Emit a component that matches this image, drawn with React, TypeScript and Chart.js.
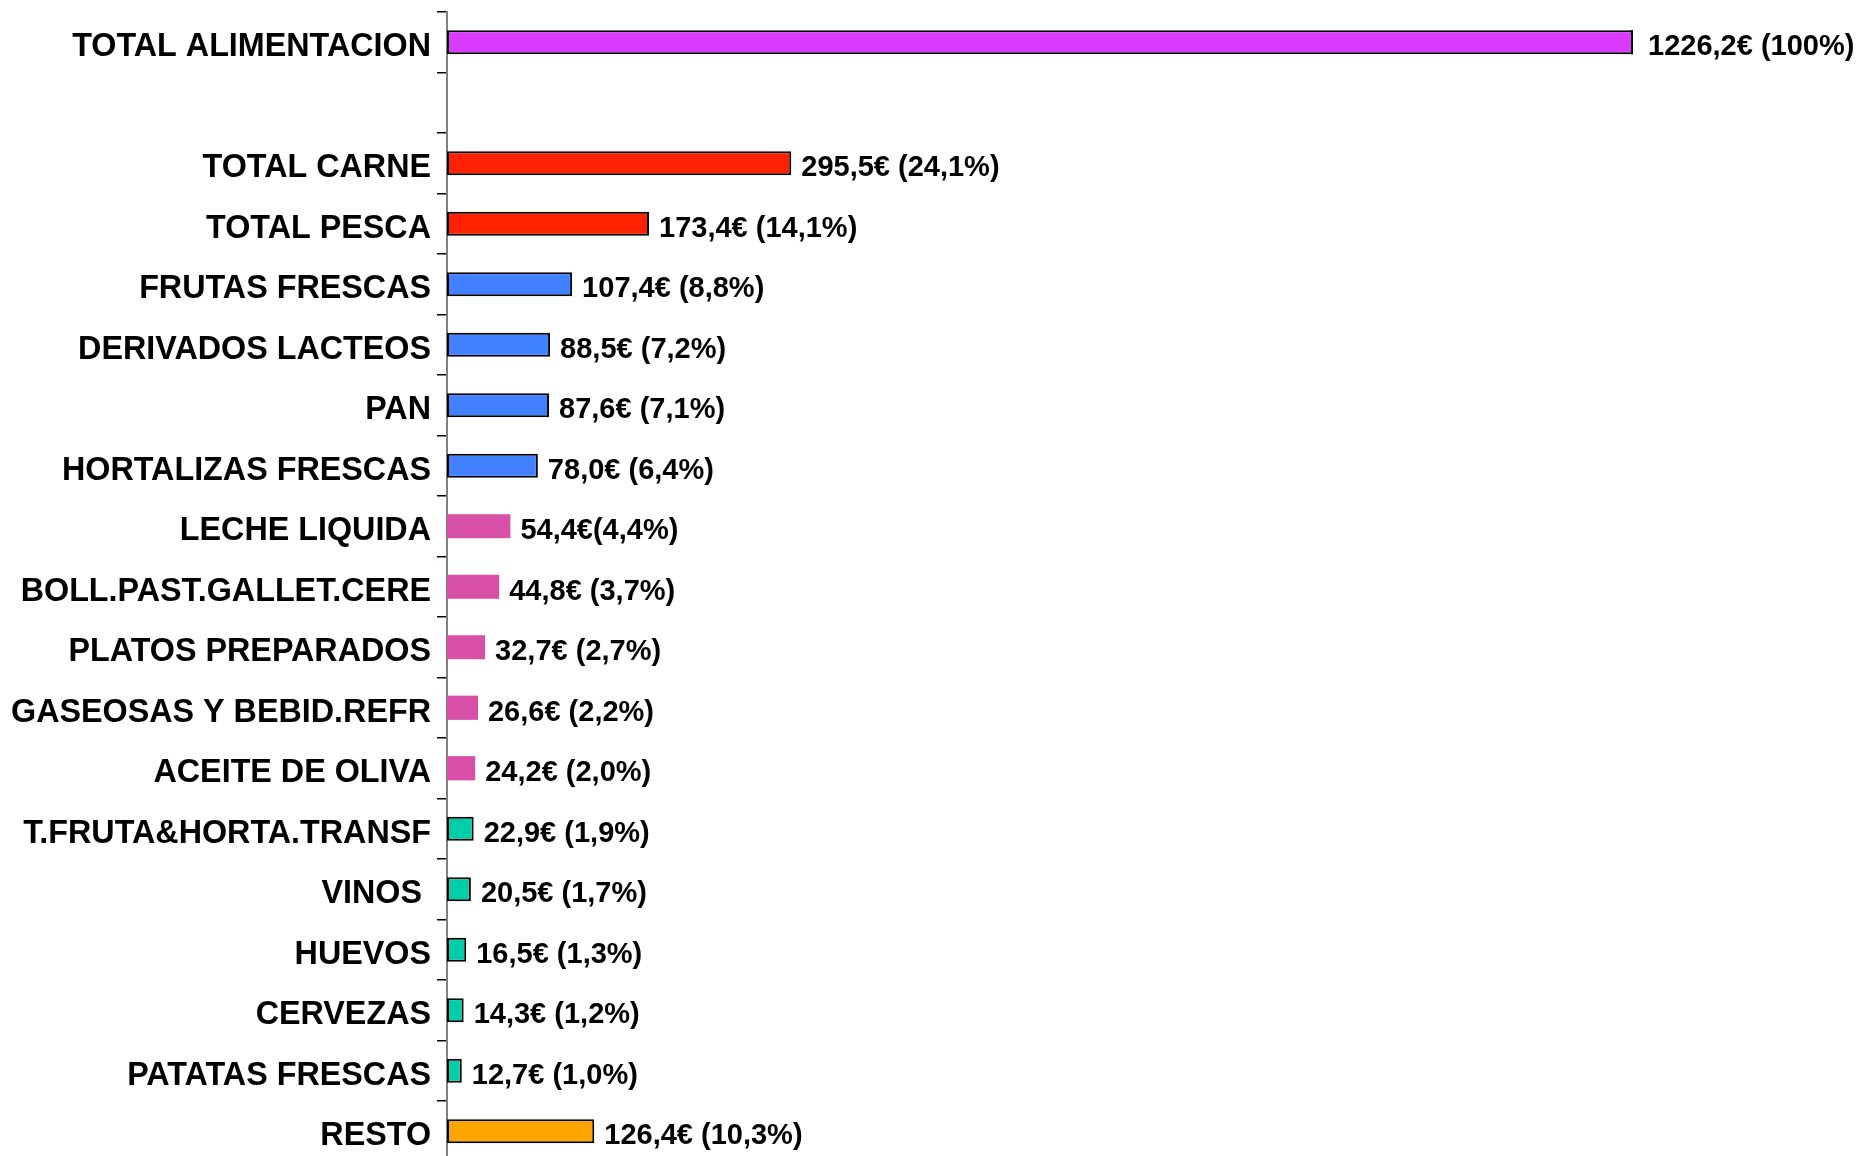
import { useEffect, useRef } from "react";
import { Chart, registerables } from "chart.js";

Chart.register(...registerables);

const categories = [
  "TOTAL ALIMENTACION",
  "",
  "TOTAL CARNE",
  "TOTAL PESCA",
  "FRUTAS FRESCAS",
  "DERIVADOS LACTEOS",
  "PAN",
  "HORTALIZAS FRESCAS",
  "LECHE LIQUIDA",
  "BOLL.PAST.GALLET.CERE",
  "PLATOS PREPARADOS",
  "GASEOSAS Y BEBID.REFR",
  "ACEITE DE OLIVA",
  "T.FRUTA&HORTA.TRANSF",
  "VINOS ",
  "HUEVOS",
  "CERVEZAS",
  "PATATAS FRESCAS",
  "RESTO",
];

const values = [
  1226.2, null, 295.5, 173.4, 107.4, 88.5, 87.6, 78.0, 54.4, 44.8, 32.7, 26.6,
  24.2, 22.9, 20.5, 16.5, 14.3, 12.7, 126.4,
];

const valueLabels = [
  "1226,2€ (100%)",
  "",
  "295,5€ (24,1%)",
  "173,4€ (14,1%)",
  "107,4€ (8,8%)",
  "88,5€ (7,2%)",
  "87,6€ (7,1%)",
  "78,0€ (6,4%)",
  "54,4€(4,4%)",
  "44,8€ (3,7%)",
  "32,7€ (2,7%)",
  "26,6€ (2,2%)",
  "24,2€ (2,0%)",
  "22,9€ (1,9%)",
  "20,5€ (1,7%)",
  "16,5€ (1,3%)",
  "14,3€ (1,2%)",
  "12,7€ (1,0%)",
  "126,4€ (10,3%)",
];

const PURPLE = "#D93CFF";
const RED = "#FF2200";
const BLUE = "#4181FF";
const PINK = "#D84FA8";
const TEAL = "#00CEA8";
const ORANGE = "#FFA500";

const barColors = [
  PURPLE, PURPLE, RED, RED, BLUE, BLUE, BLUE, BLUE,
  PINK, PINK, PINK, PINK, PINK,
  TEAL, TEAL, TEAL, TEAL, TEAL, ORANGE,
];

const barBorders = [
  2, 2, 2, 2, 2, 2, 2, 2,
  0, 0, 0, 0, 0,
  2, 2, 2, 2, 2, 2,
];

const AXIS_MAX = 1018;
const FONT = '"Liberation Sans", Arial, sans-serif';

const labelsPlugin = {
  id: "valueLabels",
  afterDatasetsDraw(chart: any) {
    const ctx = chart.ctx;
    const area = chart.chartArea;
    const meta = chart.getDatasetMeta(0);
    ctx.save();
    meta.data.forEach((el: any, i: number) => {
      const v = values[i];
      if (v === null || v === undefined) return;
      const { x, y, height } = el.getProps(["x", "y", "height"], true);
      let endX = x;
      if (x > area.right) {
        const bw = barBorders[i];
        if (bw > 0) {
          ctx.fillStyle = "#000";
          ctx.fillRect(area.right - bw, y - height / 2, bw, height);
        }
        endX = area.right + 5;
      }
      ctx.fillStyle = "#000";
      ctx.font = `bold 29px ${FONT}`;
      ctx.textAlign = "left";
      ctx.textBaseline = "middle";
      ctx.fillText(valueLabels[i], endX + 10, y + 5);
    });
    ctx.restore();
  },
};

export default function App() {
  const canvasRef = useRef<HTMLCanvasElement | null>(null);

  useEffect(() => {
    if (!canvasRef.current) return;
    const chart = new Chart(canvasRef.current, {
      type: "bar",
      data: {
        labels: categories,
        datasets: [
          {
            data: values as any,
            backgroundColor: barColors,
            borderColor: "#000",
            borderWidth: barBorders,
            borderSkipped: false,
            barPercentage: 0.4,
            categoryPercentage: 1,
            clip: { left: false, top: false, bottom: false, right: 0 } as any,
          },
        ],
      },
      options: {
        indexAxis: "y",
        animation: false,
        responsive: false,
        maintainAspectRatio: false,
        events: [],
        layout: { padding: { top: 12, bottom: 8.5, left: 0, right: 228 } },
        plugins: {
          legend: { display: false },
          tooltip: { enabled: false },
          title: { display: false },
        },
        scales: {
          x: {
            display: false,
            min: 0,
            max: AXIS_MAX,
          },
          y: {
            type: "category",
            offset: true,
            grid: {
              offset: true,
              drawOnChartArea: false,
              drawTicks: true,
              tickLength: 10,
              color: "#000",
              lineWidth: 1.5,
            },
            border: { display: true, color: "#808080", width: 2 },
            ticks: {
              color: "#000",
              padding: 6,
              autoSkip: false,
              labelOffset: 5,
              font: { family: FONT, size: 32.3, weight: "bold" },
            },
            afterFit: (scale: any) => {
              scale.width = 447;
              scale.paddingTop = 0;
              scale.paddingBottom = 0;
            },
          },
        },
      },
      plugins: [labelsPlugin],
    });
    return () => chart.destroy();
  }, []);

  return (
    <div
      style={{
        position: "fixed",
        left: 0,
        top: 0,
        width: 1861,
        height: 1156,
        overflow: "hidden",
        background: "#fff",
      }}
    >
      <canvas ref={canvasRef} width={1861} height={1170} style={{ display: "block" }} />
    </div>
  );
}
